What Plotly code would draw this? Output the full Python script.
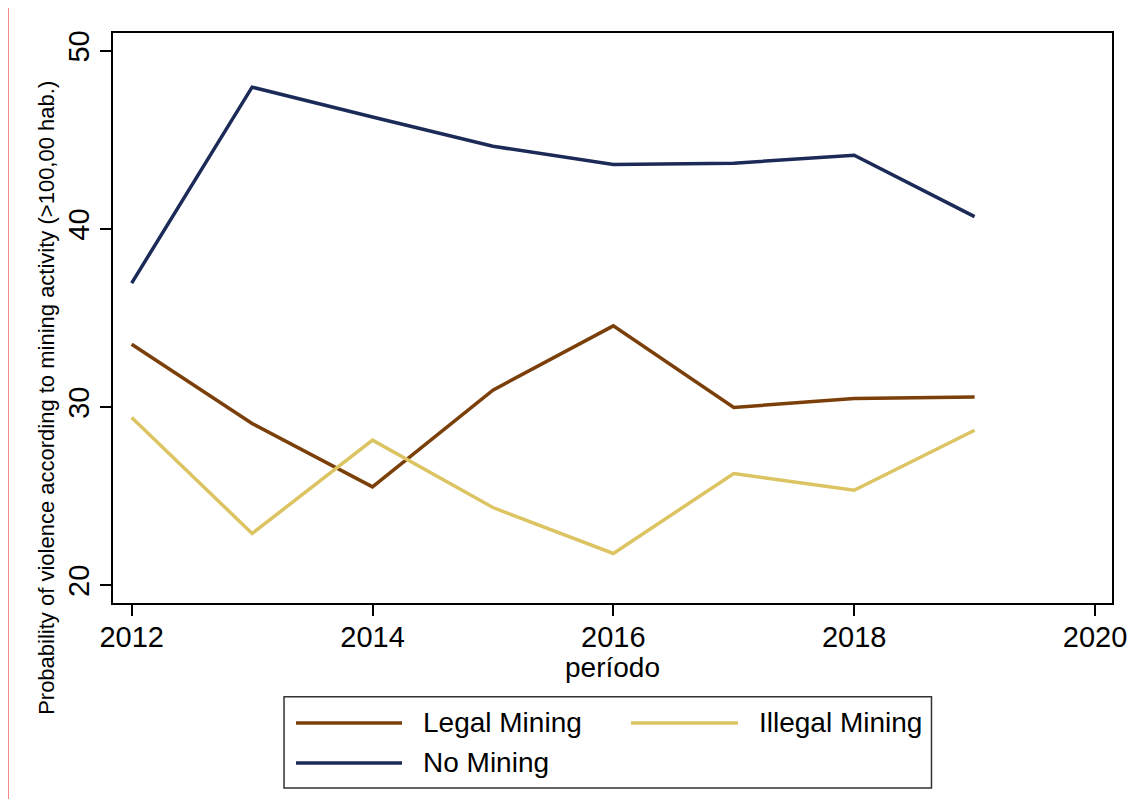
import plotly.graph_objects as go

years = [2012, 2013, 2014, 2015, 2016, 2017, 2018, 2019]
legal_mining = [33.53, 29.08, 25.52, 30.95, 34.56, 29.98, 30.48, 30.56]
illegal_mining = [29.42, 22.90, 28.14, 24.36, 21.78, 26.27, 25.33, 28.70]
no_mining = [36.96, 47.96, 46.28, 44.64, 43.62, 43.69, 44.14, 40.69]

series_names = ["Legal Mining", "Illegal Mining", "No Mining"]
series_values = [legal_mining, illegal_mining, no_mining]
colors = ["#7b3f0a", "#dcc462", "#1c2a57"]

x_ticks = [2012, 2014, 2016, 2018, 2020]
y_ticks = [20, 30, 40, 50]

x_title = "período"
y_title = "Probability of violence according to mining activity (>100,00 hab.)"

FONT = "Liberation Sans, Arial, Helvetica, sans-serif"

fig = go.Figure()
for name, vals, col in zip(series_names, series_values, colors):
    fig.add_trace(go.Scatter(x=years, y=vals, mode="lines", name=name,
                             line=dict(color=col, width=3.5), showlegend=False))

# page body has an 8px margin; compensate so the plot lands where the reference has it
fig.update_layout(
    width=1119, height=791,
    margin=dict(l=105, r=15, t=25, b=196, autoexpand=False),
    paper_bgcolor="white", plot_bgcolor="white",
    font=dict(family=FONT, color="black"),
    showlegend=False,
)
fig.update_xaxes(
    range=[2011.845, 2020.141], tickvals=x_ticks, ticktext=[str(t) for t in x_ticks],
    showgrid=False, zeroline=False, showline=True, mirror=True, automargin=False,
    linecolor="black", linewidth=1.5, ticks="outside", ticklen=11, tickwidth=1.5,
    tickcolor="black", tickfont=dict(size=29, family=FONT), ticklabeloverflow="allow",
    ticklabelstandoff=-4,
)
fig.update_yaxes(
    range=[19.0, 51.0], tickvals=y_ticks, ticktext=[str(t) for t in y_ticks],
    showgrid=False, zeroline=False, showline=True, mirror=True, automargin=False,
    linecolor="black", linewidth=1.5, ticks="outside", ticklen=11, tickwidth=1.5,
    tickcolor="black", tickfont=dict(size=29, family=FONT), tickangle=-90,
    ticklabeloverflow="allow",
)

# Custom legend (box, line samples, labels); paper coords relative to plot area
shapes = [
    dict(type="rect", xref="paper", yref="paper", x0=0.1712, x1=0.8193,
         y0=-0.3246, y1=-0.1644, line=dict(color="#333333", width=1.5),
         fillcolor="white"),
    dict(type="line", xref="paper", yref="paper", x0=0.1832, x1=0.2893,
         y0=-0.2105, y1=-0.2105, line=dict(color=colors[0], width=3.5)),
    dict(type="line", xref="paper", yref="paper", x0=0.5185, x1=0.6256,
         y0=-0.2105, y1=-0.2105, line=dict(color=colors[1], width=3.5)),
    dict(type="line", xref="paper", yref="paper", x0=0.1832, x1=0.2893,
         y0=-0.2807, y1=-0.2807, line=dict(color=colors[2], width=3.5)),
    dict(type="line", xref="paper", yref="paper", x0=-0.1046, x1=-0.1046,
         y0=-0.36, y1=1.044, line=dict(color="#f08a8a", width=1)),
]
annotations = [
    dict(text=series_names[0], xref="paper", yref="paper", x=0.3083, y=-0.2105,
         xanchor="left", yanchor="middle", showarrow=False, font=dict(size=28, family=FONT)),
    dict(text=series_names[1], xref="paper", yref="paper", x=0.6446, y=-0.2105,
         xanchor="left", yanchor="middle", showarrow=False, font=dict(size=28, family=FONT)),
    dict(text=series_names[2], xref="paper", yref="paper", x=0.3083, y=-0.2807,
         xanchor="left", yanchor="middle", showarrow=False, font=dict(size=28, family=FONT)),
    dict(text=x_title, xref="paper", yref="paper", x=0.5, y=-0.114,
         xanchor="center", yanchor="middle", showarrow=False, font=dict(size=28, family=FONT)),
    dict(text=y_title, xref="paper", yref="paper", x=-0.066, y=0.36, textangle=-90,
         xanchor="center", yanchor="middle", showarrow=False, font=dict(size=22, family=FONT)),
]
fig.update_layout(shapes=shapes, annotations=annotations)

fig.write_html("out.html")
